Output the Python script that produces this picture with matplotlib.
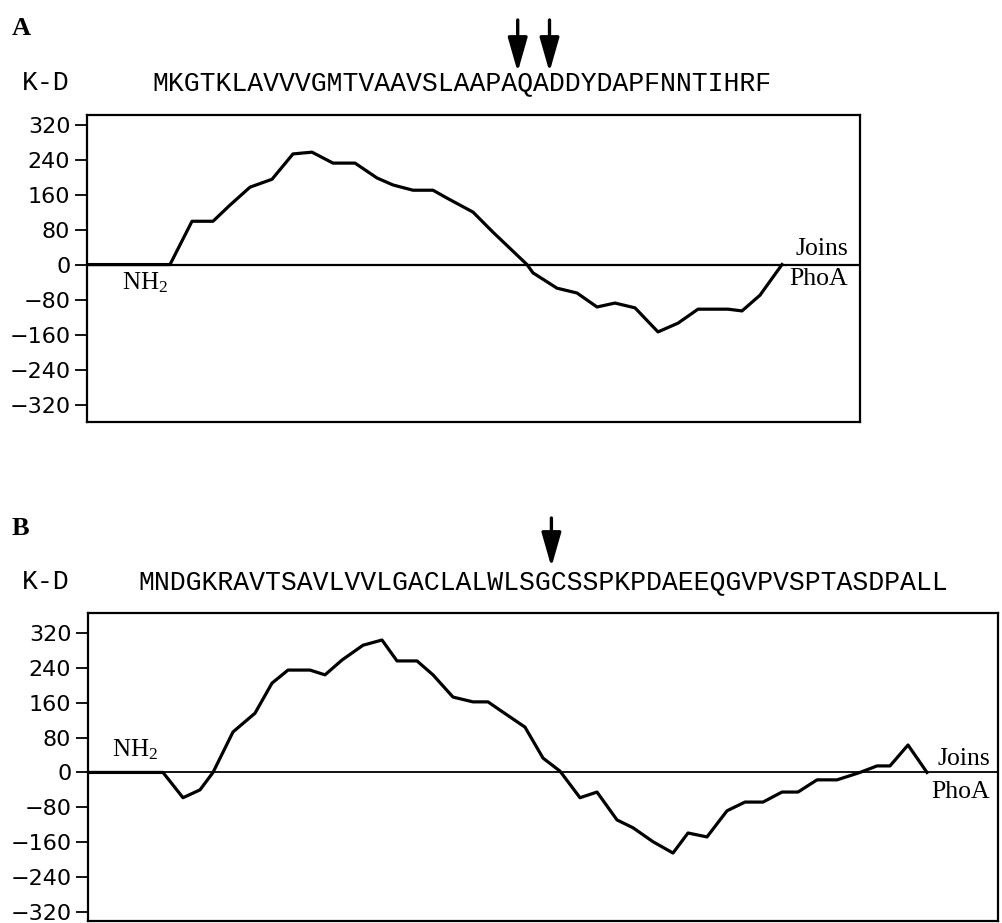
import matplotlib
matplotlib.use("Agg")
import matplotlib.pyplot as plt
from matplotlib.patches import FancyArrowPatch

plt.rcParams["mathtext.fontset"] = "custom"
plt.rcParams["mathtext.rm"] = "Liberation Serif"
plt.rcParams["mathtext.it"] = "Liberation Serif:italic"
plt.rcParams["mathtext.bf"] = "Liberation Serif:bold"

# ---------------- data ----------------
seq_a = "MKGTKLAVVVGMTVAAVSLAAPAQADDYDAPFNNTIHRF"
seq_b = "MNDGKRAVTSAVLVVLGACLALWLSGCSSPKPDAEEQGVPVSPTASDPALL"
cleave_a = [23, 25]      # cleavage after residue n
cleave_b = [26]

pos_a = [0, 83, 105, 126, 143, 163, 185, 206, 225, 246, 268, 290, 306, 326, 346,
         360, 386, 406, 440, 446, 470, 490, 510, 528, 548, 571, 591, 611, 641,
         655, 673, 695]
kd_a = [0, 0, 99, 99, 136, 177, 195, 253, 257, 232, 232, 198, 182, 170, 170,
        152, 120, 74, 0, -19, -54, -65, -97, -88, -99, -154, -134, -102, -102,
        -106, -70, 0]

pos_b = [0, 75, 95, 112, 125, 145, 167, 184, 200, 222, 237, 254, 275, 294, 309,
         329, 345, 365, 385, 400, 412, 437, 455, 472, 492, 509, 529, 545, 565,
         585, 600, 619, 639, 657, 675, 694, 710, 729, 749, 772, 789, 802, 820, 839]
kd_b = [0, 0, -58, -40, 0, 93, 136, 205, 235, 235, 224, 258, 292, 304, 256,
        256, 224, 173, 162, 162, 143, 104, 33, 3, -58, -45, -109, -127, -159,
        -185, -139, -148, -88, -68, -68, -45, -45, -17, -17, 0, 15, 15, 63, 0]

yticks = [320, 240, 160, 80, 0, -80, -160, -240, -320]

# ---------------- figure ----------------
W, H = 1002, 923
fig = plt.figure(figsize=(W / 100, H / 100), dpi=100)
fig.patch.set_facecolor("white")


def fx(px):
    return px / W


def fy(py):
    return 1 - py / H


def make_axes(left, right, top, bottom, ylim, xlim, zero_lw):
    ax = fig.add_axes([fx(left), fy(bottom), fx(right) - fx(left), fy(top) - fy(bottom)])
    ax.set_xlim(*xlim)
    ax.set_ylim(*ylim)
    ax.set_xticks([])
    ax.set_yticks(yticks)
    ax.set_yticklabels([str(t).replace("-", "\u2212") for t in yticks],
                       fontfamily="DejaVu Sans", fontsize=16)
    ax.tick_params(axis="y", direction="out", length=9, width=1.3, pad=3, color="black")
    for s in ax.spines.values():
        s.set_linewidth(1.6)
        s.set_color("black")
    ax.axhline(0, color="black", lw=zero_lw, zorder=1)
    return ax


serif = "Liberation Serif"
mono = "Liberation Mono"
char_w = 15.9
mono_size = char_w / 0.6 * 72 / 100


def header(label, label_base, seq, seq_x0, seq_base, cleaves, arrow_top, arrow_tip):
    fig.text(fx(12), fy(label_base), label, fontfamily=serif, fontweight="bold",
             fontsize=19, ha="left", va="baseline")
    fig.text(fx(22), fy(seq_base), "K-D", fontfamily=mono, fontsize=mono_size,
             ha="left", va="baseline")
    fig.text(fx(seq_x0), fy(seq_base), seq, fontfamily=mono, fontsize=mono_size,
             ha="left", va="baseline")
    for c in cleaves:
        x = seq_x0 + c * char_w
        arr = FancyArrowPatch((fx(x), fy(arrow_top)), (fx(x), fy(arrow_tip)),
                              transform=fig.transFigure,
                              arrowstyle="-|>,head_length=21,head_width=6",
                              mutation_scale=1, lw=2.4, color="black",
                              shrinkA=0, shrinkB=0)
        fig.add_artist(arr)


nh2 = r"NH$_\mathrm{2}$"

# ---------- Panel A ----------
header("A", 35, seq_a, 152, 90, cleave_a, 20, 72)
axA = make_axes(87, 860, 115, 422, (-360, 342), (0, 773), 1.6)
axA.plot(pos_a, kd_a, color="black", lw=2.3, solid_joinstyle="round", zorder=3)
axA.text(35, -56, nh2, fontfamily=serif, fontsize=18, ha="left", va="baseline")
axA.text(761, 22, "Joins", fontfamily=serif, fontsize=18.5, ha="right", va="baseline")
axA.text(761, -47, "PhoA", fontfamily=serif, fontsize=18.5, ha="right", va="baseline")

# ---------- Panel B ----------
header("B", 535, seq_b, 138, 589, cleave_b, 518, 567)
axB = make_axes(88, 998, 613, 921, (-341, 366), (0, 910), 1.3)
axB.plot(pos_b, kd_b, color="black", lw=2.3, solid_joinstyle="round", zorder=3)
axB.text(24, 36, nh2, fontfamily=serif, fontsize=18, ha="left", va="baseline")
axB.text(902, 17, "Joins", fontfamily=serif, fontsize=18.5, ha="right", va="baseline")
axB.text(902, -58, "PhoA", fontfamily=serif, fontsize=18.5, ha="right", va="baseline")

fig.savefig("out.png", dpi=100, facecolor="white")
